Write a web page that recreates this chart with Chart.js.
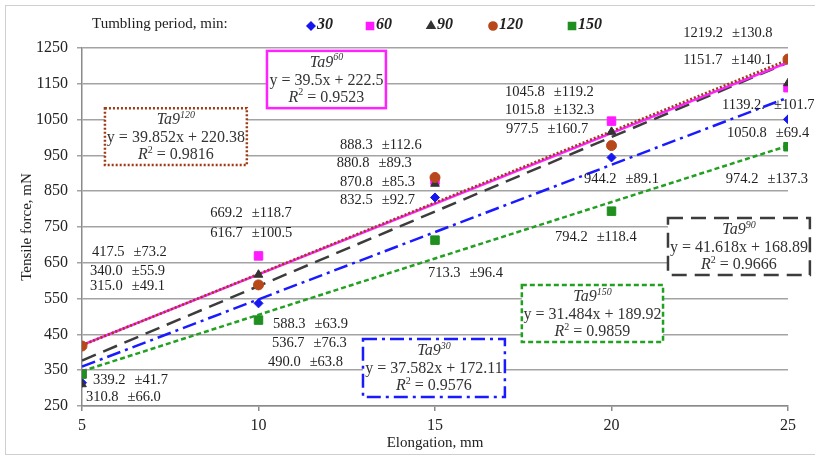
<!DOCTYPE html>
<html lang="en">
<head>
    <meta charset="UTF-8">
    <title>Tensile force vs elongation</title>
    <script src="https://cdn.jsdelivr.net/npm/chart.js"></script>
    <style>
        html, body { margin: 0; padding: 0; background: #fff; }
        #wrap { width: 815px; height: 460px; position: relative; }
    </style>
</head>
<body>
<div id="wrap"><canvas id="forceChart"></canvas></div>
<script>
    // data
    const elongation = [5, 10, 15, 20, 25];
    const periods = ['30', '60', '90', '120', '150'];
    const force30  = [315.0, 536.7, 832.5, 944.2, 1050.8];
    const force60  = [340.0, 669.2, 880.8, 1045.8, 1139.2];
    const force90  = [310.8, 616.7, 870.8, 1015.8, 1151.7];
    const force120 = [417.5, 588.3, 888.3, 977.5, 1219.2];
    const force150 = [339.2, 490.0, 713.3, 794.2, 974.2];
    const sd30  = [49.1, 76.3, 92.7, 89.1, 69.4];
    const sd60  = [55.9, 118.7, 89.3, 119.2, 101.7];
    const sd90  = [66.0, 100.5, 85.3, 132.3, 140.1];
    const sd120 = [73.2, 63.9, 112.6, 160.7, 130.8];
    const sd150 = [41.7, 63.8, 96.4, 118.4, 137.3];
    const slopes = [37.582, 39.5, 41.618, 39.852, 31.484];
    const intercepts = [172.11, 222.5, 168.89, 220.38, 189.92];
    const rSquared = ['0.9576', '0.9523', '0.9666', '0.9816', '0.9859'];
    const yTicks = [250, 350, 450, 550, 650, 750, 850, 950, 1050, 1150, 1250];
    const xTicks = [5, 10, 15, 20, 25];

    const forces = [force30, force60, force90, force120, force150];
    const sds = [sd30, sd60, sd90, sd120, sd150];

    // styles
    const colors = ['#1616f0', '#ff1aff', '#333333', '#b8481a', '#1f8f1f'];
    const lineColors = ['#1a1aff', '#ff22ff', '#3c3c3c', '#9e3a14', '#22a022'];
    const pointStyles = ['rectRot', 'rect', 'triangle', 'circle', 'rect'];
    const pointSizes = [4.5, 6, 5, 5, 6];
    const dashes = [[14, 5, 3, 5], [], [15, 8], [2, 2], [5, 3]];

    // where the value labels sit (elongation, force)
    const labelPos = [
        [[5.23, 585], [10.38, 426], [12.31, 825], [19.22, 884], [23.27, 1013]],
        [[5.23, 627], [8.63, 789], [12.22, 929], [16.98, 1127], [23.13, 1091]],
        [[5.11, 275], [8.63, 733], [12.31, 876], [16.98, 1077], [22.03, 1216]],
        [[5.28, 680], [10.41, 479], [12.31, 979], [17.01, 1024], [22.03, 1292]],
        [[5.31, 323], [10.27, 373], [14.80, 621], [18.40, 722], [23.24, 884]]
    ];
    const labelSuffix = {'1-4': '.'};
    // equation boxes: [x0, x1, yTop, yBottom] in data units
    const boxPos = [
        [12.96, 16.98, 437, 275],
        [10.24, 13.61, 1242, 1082],
        [21.60, 25.62, 775, 616],
        [5.65, 9.67, 1082, 923],
        [17.46, 21.46, 588, 429]
    ];

    const serif = '"Liberation Serif", "Times New Roman", serif';

    // later periods are drawn on top of earlier ones
    const pointSets = [4, 3, 2, 1, 0].map(s => ({
        type: 'scatter',
        label: periods[s],
        data: elongation.map((x, i) => ({x: x, y: forces[s][i]})),
        pointStyle: pointStyles[s],
        pointRadius: pointSizes[s],
        backgroundColor: colors[s],
        borderColor: colors[s],
        borderWidth: 1
    }));
    // dotted 120 line goes over the solid 60 line
    const trendSets = [3, 1, 2, 0, 4].map(s => ({
        type: 'line',
        label: 'Ta9 ' + periods[s],
        data: [xTicks[0], xTicks[xTicks.length - 1]].map(x => ({x: x, y: slopes[s] * x + intercepts[s]})),
        borderColor: lineColors[s],
        borderWidth: 2.5,
        borderDash: dashes[s],
        pointRadius: 0,
        fill: false
    }));

    function drawRich(ctx, parts, cx, cy) {
        let total = 0;
        parts.forEach(p => { ctx.font = p.font; total += ctx.measureText(p.text).width; });
        let x = cx - total / 2;
        parts.forEach(p => {
            ctx.font = p.font;
            ctx.fillText(p.text, x, cy + (p.dy || 0));
            x += ctx.measureText(p.text).width;
        });
    }

    const annotations = {
        id: 'annotations',
        afterDatasetsDraw(chart) {
            const ctx = chart.ctx;
            const xs = chart.scales.x, ys = chart.scales.y;
            ctx.save();
            ctx.fillStyle = '#222';
            ctx.textBaseline = 'middle';
            ctx.textAlign = 'left';
            ctx.font = '14.5px ' + serif;
            // value labels
            forces.forEach((f, s) => {
                f.forEach((v, i) => {
                    const p = labelPos[s][i];
                    const x = xs.getPixelForValue(p[0]);
                    const y = ys.getPixelForValue(p[1]);
                    const a = v.toFixed(1) + (labelSuffix[s + '-' + i] || '');
                    ctx.fillText(a, x, y);
                    ctx.fillText('±' + sds[s][i].toFixed(1), x + ctx.measureText(a).width + 9, y);
                });
            });
            // equation boxes
            boxPos.forEach((b, s) => {
                const x0 = xs.getPixelForValue(b[0]), x1 = xs.getPixelForValue(b[1]);
                const y0 = ys.getPixelForValue(b[2]), y1 = ys.getPixelForValue(b[3]);
                ctx.fillStyle = '#fff';
                ctx.fillRect(x0, y0, x1 - x0, y1 - y0);
                ctx.strokeStyle = lineColors[s];
                ctx.lineWidth = 2.5;
                ctx.setLineDash(dashes[s]);
                ctx.strokeRect(x0, y0, x1 - x0, y1 - y0);
                ctx.setLineDash([]);
                ctx.fillStyle = '#333';
                const cx = (x0 + x1) / 2;
                drawRich(ctx, [
                    {text: 'Ta9', font: 'italic 16px ' + serif},
                    {text: periods[s], font: 'italic 10px ' + serif, dy: -5}
                ], cx, y0 + 12);
                drawRich(ctx, [
                    {text: 'y = ' + slopes[s] + 'x + ' + intercepts[s], font: '16px ' + serif}
                ], cx, y0 + 30);
                drawRich(ctx, [
                    {text: 'R', font: 'italic 16px ' + serif},
                    {text: '2', font: '10px ' + serif, dy: -5},
                    {text: ' = ' + rSquared[s], font: '16px ' + serif}
                ], cx, y0 + 47);
            });
            // legend row
            ctx.fillStyle = '#222';
            ctx.textAlign = 'left';
            ctx.font = '15px ' + serif;
            ctx.fillText('Tumbling period, min:', 92, 24);
            const legendX = [311, 370, 431, 493, 572];
            periods.forEach((p, s) => {
                ctx.fillStyle = colors[s];
                ctx.strokeStyle = colors[s];
                Chart.helpers.drawPoint(ctx, {
                    pointStyle: pointStyles[s],
                    radius: pointSizes[s] * 0.72,
                    borderWidth: 1
                }, legendX[s], 26);
                ctx.fillStyle = '#222';
                ctx.font = 'bold italic 16px ' + serif;
                ctx.fillText(p, legendX[s] + 6, 25);
            });
            // outer frame
            ctx.strokeStyle = '#cfcfcf';
            ctx.lineWidth = 1;
            ctx.strokeRect(5.5, 5.5, 815, 449);
            ctx.restore();
        }
    };

    const ctx = document.getElementById('forceChart').getContext('2d');
    const forceChart = new Chart(ctx, {
        data: { datasets: pointSets.concat(trendSets) },
        options: {
            responsive: true,
            maintainAspectRatio: false,
            animation: false,
            layout: { padding: { left: 14, right: 27, top: 48, bottom: 0 } },
            plugins: { legend: { display: false }, tooltip: { enabled: false } },
            scales: {
                x: {
                    type: 'linear',
                    min: xTicks[0],
                    max: xTicks[xTicks.length - 1],
                    afterBuildTicks: axis => { axis.ticks = xTicks.map(v => ({value: v})); },
                    afterFit: axis => { axis.height = 54; },
                    grid: { drawOnChartArea: false, drawTicks: true, tickLength: 5, color: '#8a8a8a', lineWidth: 1.5 },
                    border: { color: '#8a8a8a', width: 1.5 },
                    ticks: { color: '#222', font: { family: serif, size: 16 }, padding: 5, callback: v => String(v) },
                    title: { display: true, text: 'Elongation, mm', color: '#222', font: { family: serif, size: 15 }, padding: { top: 0, bottom: 8 } }
                },
                y: {
                    type: 'linear',
                    min: yTicks[0],
                    max: yTicks[yTicks.length - 1],
                    afterBuildTicks: axis => { axis.ticks = yTicks.map(v => ({value: v})); },
                    afterFit: axis => { axis.width = 68; },
                    grid: { color: '#a3a3a3', lineWidth: 1.5, tickLength: 5 },
                    border: { color: '#8a8a8a', width: 1.5 },
                    ticks: { color: '#222', font: { family: serif, size: 16 }, padding: 9, callback: v => String(v) },
                    title: { display: true, text: 'Tensile force, mN', color: '#222', font: { family: serif, size: 15 }, padding: { top: 4, bottom: 0 } }
                }
            }
        },
        plugins: [annotations]
    });
</script>
</body>
</html>
